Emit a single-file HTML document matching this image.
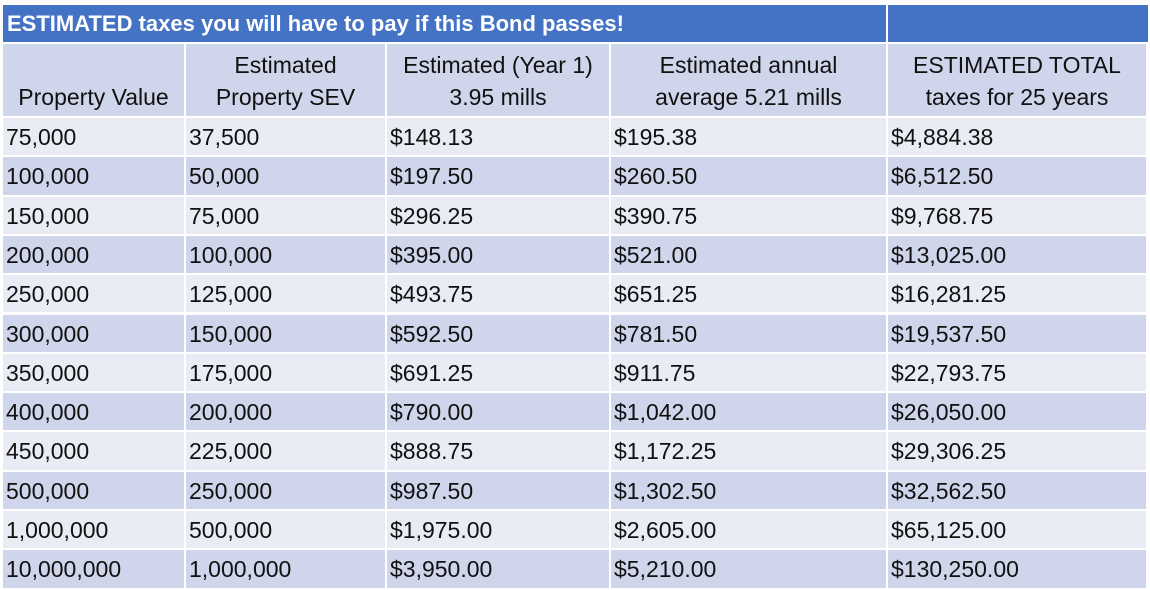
<!DOCTYPE html>
<html><head><meta charset="utf-8"><style>
body{margin:0;width:1150px;height:590px;background:#fff;position:relative;overflow:hidden;font-family:"Liberation Sans",sans-serif;}
.c{position:absolute;box-sizing:border-box;color:#111;font-size:23px;white-space:nowrap;}
.title{position:absolute;left:3px;top:5px;width:883px;height:37px;background:#4472c4;color:#fff;font-weight:bold;font-size:22px;line-height:38px;padding-left:4px;box-sizing:border-box;}
.title2{position:absolute;left:888px;top:5px;width:260px;height:37px;background:#4472c4;}
.h{background:#cfd5ea;text-align:center;line-height:32px;padding-top:5px;}
</style></head><body>
<div class="title">ESTIMATED taxes you will have to pay if this Bond passes!</div>
<div class="title2"></div>
<div id="t"></div>
<script>
const cols=[3,186,387,611,888,1148];
const headers=[["","Property Value"],["Estimated","Property SEV"],["Estimated (Year 1)","3.95 mills"],["Estimated annual","average 5.21 mills"],["ESTIMATED TOTAL","taxes for 25 years"]];
const propertyValues=["75,000","100,000","150,000","200,000","250,000","300,000","350,000","400,000","450,000","500,000","1,000,000","10,000,000"];
const sev=["37,500","50,000","75,000","100,000","125,000","150,000","175,000","200,000","225,000","250,000","500,000","1,000,000"];
const year1=["$148.13","$197.50","$296.25","$395.00","$493.75","$592.50","$691.25","$790.00","$888.75","$987.50","$1,975.00","$3,950.00"];
const annual=["$195.38","$260.50","$390.75","$521.00","$651.25","$781.50","$911.75","$1,042.00","$1,172.25","$1,302.50","$2,605.00","$5,210.00"];
const total=["$4,884.38","$6,512.50","$9,768.75","$13,025.00","$16,281.25","$19,537.50","$22,793.75","$26,050.00","$29,306.25","$32,562.50","$65,125.00","$130,250.00"];
const t=document.getElementById('t');
const names=["property-value","property-sev","year1-tax","annual-tax","total-tax"];
headers.forEach((h,i)=>{
 const d=document.createElement('div');
 d.className='c h';
 
 
 d.style.left=cols[i]+'px';d.style.top='44px';d.style.width=(cols[i+1]-cols[i]-2)+'px';d.style.height='72px';
 d.innerHTML=(h[0]||'&nbsp;')+'<br>'+h[1];
 t.appendChild(d);
});
const data=[propertyValues,sev,year1,annual,total];
const top0=118,rh=39.3;
propertyValues.forEach((_,r)=>{
 data.forEach((col,i)=>{
  const d=document.createElement('div');
  d.className='c';
  
  
  const y=top0+r*rh;
  d.style.left=cols[i]+'px';d.style.top=y+'px';d.style.width=(cols[i+1]-cols[i]-2)+'px';d.style.height=(rh-2)+'px';
  d.style.lineHeight=(rh-1)+'px';d.style.paddingLeft='3px';
  d.style.background=r%2==0?'#e9ebf5':'#cfd5ea';
  d.textContent=col[r];
  t.appendChild(d);
 });
});
</script>
</body></html>
